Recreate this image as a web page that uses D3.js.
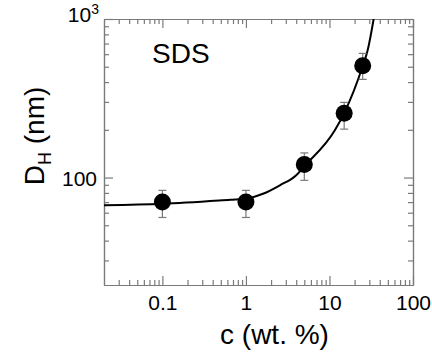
<!DOCTYPE html>
<html>
<head>
<meta charset="utf-8">
<script src="https://cdn.jsdelivr.net/npm/d3@7"></script>
<style>
  body { margin: 0; background: #fff; }
  text { font-family: "Liberation Sans", Arial, sans-serif; fill: #000; }
</style>
</head>
<body>
<div id="chart"></div>
<script>
// measured points (concentration in wt.%, hydrodynamic diameter in nm)
const concs = [0.1, 1, 5, 15, 25];
const sizes = [70, 70, 121, 254, 507];
const errLow = [56, 56, 96, 202, 416];
const errHigh = [83, 83, 143, 298, 607];

// fit curve
const fitC = [0.02, 0.1, 0.65, 1, 1.6, 2.55, 4, 5, 11.6, 15, 25, 28.7, 33.8];
const fitD = [66.8, 68.3, 72.4, 73.5, 79, 89.4, 103.4, 117.8, 199, 255, 505, 637, 1000];

const xMajor = [0.1, 1, 10, 100];
const xLabels = ["0.1", "1", "10", "100"];
const xMinor = [0.03, 0.04, 0.05, 0.06, 0.07, 0.08, 0.09,
                0.2, 0.3, 0.4, 0.5, 0.6, 0.7, 0.8, 0.9,
                2, 3, 4, 5, 6, 7, 8, 9,
                20, 30, 40, 50, 60, 70, 80, 90];
const yMajor = [100, 1000];
const yMinor = [30, 40, 50, 60, 70, 80, 90, 200, 300, 400, 500, 600, 700, 800, 900];

const W = 432, H = 358;
const M = {left: 104, right: 19, top: 19, bottom: 73};

const svg = d3.select("#chart").append("svg")
    .attr("width", W)
    .attr("height", H);

const x = d3.scaleLog().domain([0.02, 100]).range([M.left, W - M.right]);
const y = d3.scaleLog().domain([21, 1000]).range([H - M.bottom, M.top]);

const axisColor = "#7a7a7a";

function styleAxis(g) {
    g.select(".domain").attr("stroke", axisColor).attr("stroke-width", 1.2);
    g.selectAll(".tick line").attr("stroke", axisColor).attr("stroke-width", 1.2);
}

// bottom axis: labels + major ticks
svg.append("g")
    .attr("transform", `translate(0,${H - M.bottom})`)
    .call(d3.axisBottom(x).tickValues(xMajor).tickSize(-9).tickSizeOuter(0).tickPadding(10)
        .tickFormat((d, i) => xLabels[i]))
    .call(styleAxis)
    .call(g => g.selectAll("text").attr("font-size", 21));
svg.append("g")
    .attr("transform", `translate(0,${H - M.bottom})`)
    .call(d3.axisBottom(x).tickValues(xMinor).tickSize(-5).tickSizeOuter(0).tickFormat(""))
    .call(styleAxis);

// top axis
svg.append("g")
    .attr("transform", `translate(0,${M.top})`)
    .call(d3.axisTop(x).tickValues(xMajor).tickSize(-9).tickSizeOuter(0).tickFormat(""))
    .call(styleAxis);
svg.append("g")
    .attr("transform", `translate(0,${M.top})`)
    .call(d3.axisTop(x).tickValues(xMinor).tickSize(-5).tickSizeOuter(0).tickFormat(""))
    .call(styleAxis);

// left axis
svg.append("g")
    .attr("transform", `translate(${M.left},0)`)
    .call(d3.axisLeft(y).tickValues(yMajor).tickSize(-9).tickSizeOuter(0).tickFormat(""))
    .call(styleAxis);
svg.append("g")
    .attr("transform", `translate(${M.left},0)`)
    .call(d3.axisLeft(y).tickValues(yMinor).tickSize(-5).tickSizeOuter(0).tickFormat(""))
    .call(styleAxis);

// right axis
svg.append("g")
    .attr("transform", `translate(${W - M.right},0)`)
    .call(d3.axisRight(y).tickValues(yMajor).tickSize(-9).tickSizeOuter(0).tickFormat(""))
    .call(styleAxis);
svg.append("g")
    .attr("transform", `translate(${W - M.right},0)`)
    .call(d3.axisRight(y).tickValues(yMinor).tickSize(-5).tickSizeOuter(0).tickFormat(""))
    .call(styleAxis);

// y tick labels
svg.append("text")
    .attr("x", M.left - 7)
    .attr("y", y(100) + 8)
    .attr("text-anchor", "end")
    .attr("font-size", 21)
    .text("100");
const topLabel = svg.append("text")
    .attr("x", M.left - 5)
    .attr("y", M.top + 3)
    .attr("text-anchor", "end")
    .attr("font-size", 21);
topLabel.append("tspan").text("10");
topLabel.append("tspan").attr("font-size", 14).attr("dy", -8).text("3");

// fit line
svg.append("defs").append("clipPath").attr("id", "plot")
    .append("rect")
    .attr("x", M.left).attr("y", M.top)
    .attr("width", W - M.left - M.right)
    .attr("height", H - M.top - M.bottom);

const line = d3.line()
    .x((d, i) => x(fitC[i]))
    .y(d => y(d))
    .curve(d3.curveMonotoneX);

svg.append("path")
    .datum(fitD)
    .attr("clip-path", "url(#plot)")
    .attr("fill", "none")
    .attr("stroke", "#000")
    .attr("stroke-width", 2)
    .attr("d", line);

// error bars
const eb = svg.append("g").attr("stroke", axisColor).attr("stroke-width", 1.2);
eb.selectAll("line.v").data(concs).join("line")
    .attr("class", "v")
    .attr("x1", d => x(d)).attr("x2", d => x(d))
    .attr("y1", (d, i) => y(errLow[i])).attr("y2", (d, i) => y(errHigh[i]));
eb.selectAll("line.lo").data(concs).join("line")
    .attr("class", "lo")
    .attr("x1", d => x(d) - 4).attr("x2", d => x(d) + 4)
    .attr("y1", (d, i) => y(errLow[i])).attr("y2", (d, i) => y(errLow[i]));
eb.selectAll("line.hi").data(concs).join("line")
    .attr("class", "hi")
    .attr("x1", d => x(d) - 4).attr("x2", d => x(d) + 4)
    .attr("y1", (d, i) => y(errHigh[i])).attr("y2", (d, i) => y(errHigh[i]));

// points
svg.selectAll("circle").data(concs).join("circle")
    .attr("cx", d => x(d))
    .attr("cy", (d, i) => y(sizes[i]))
    .attr("r", 8.5)
    .attr("fill", "#000");

// label
svg.append("text")
    .attr("x", 152)
    .attr("y", 63)
    .attr("font-size", 28)
    .text("SDS");

// axis titles
svg.append("text")
    .attr("x", (M.left + W - M.right) / 2 + 16)
    .attr("y", 344)
    .attr("text-anchor", "middle")
    .attr("font-size", 28)
    .text("c (wt. %)");

const yt = svg.append("text")
    .attr("transform", `translate(44,${136}) rotate(-90)`)
    .attr("text-anchor", "middle")
    .attr("font-size", 28);
yt.append("tspan").text("D");
yt.append("tspan").attr("font-size", 18).attr("dy", 7).text("H");
yt.append("tspan").attr("dy", -7).text(" (nm)");
</script>
</body>
</html>
